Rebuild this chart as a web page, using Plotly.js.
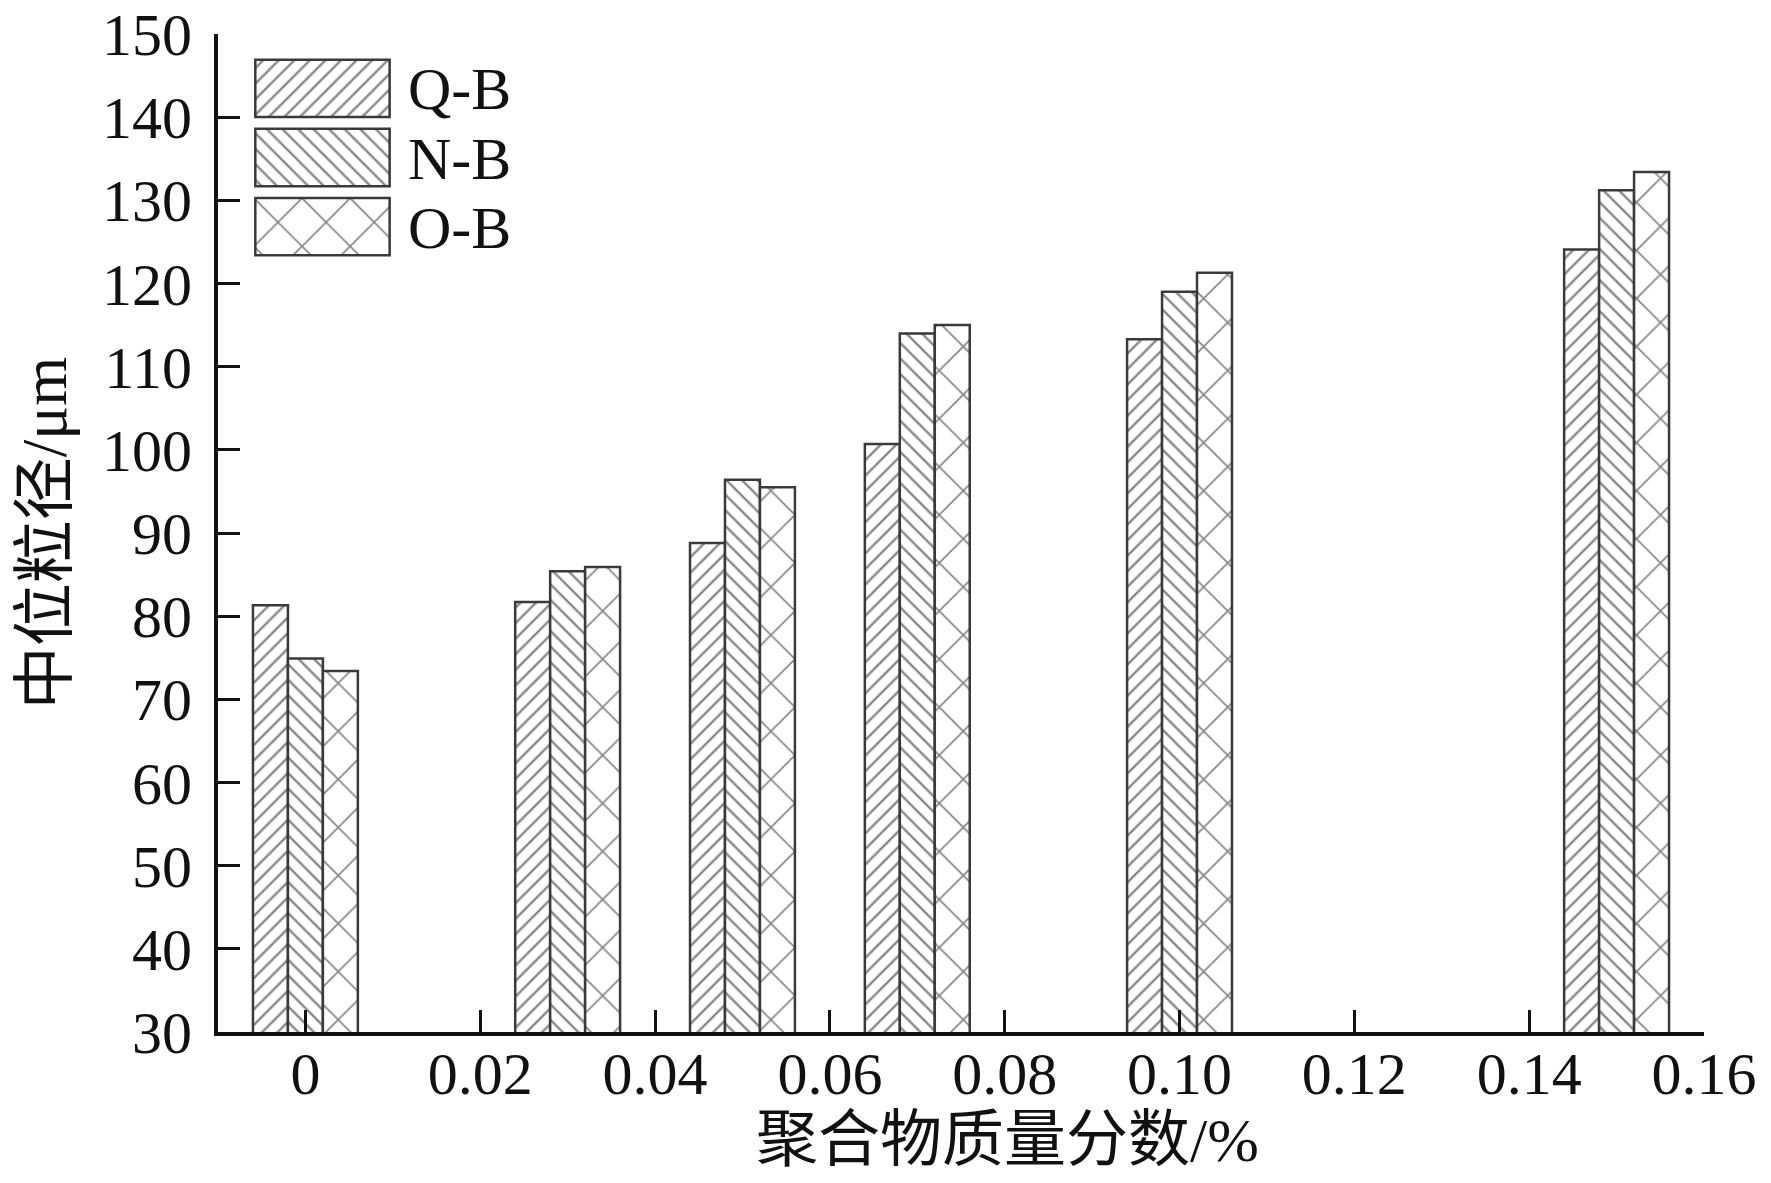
<!DOCTYPE html>
<html>
<head>
<meta charset="utf-8">
<script src="https://cdn.plot.ly/plotly-3.0.1.min.js"></script>
<style>
  html, body { margin: 0; padding: 0; background: #fff; }
  #chart { width: 1771px; height: 1183px; }
</style>
</head>
<body>
<div id="chart"></div>
<script>
// polymer mass fraction (%) and median particle size (um)
const massFraction = [0, 0.03, 0.05, 0.07, 0.10, 0.15];
const qbValues = [81.3, 81.7, 88.8, 100.7, 113.3, 124.1];
const nbValues = [74.9, 85.4, 96.4, 114.0, 119.0, 131.2];
const obValues = [73.4, 85.9, 95.5, 115.0, 121.3, 133.4];
const seriesNames = ["Q-B", "N-B", "O-B"];

const xTickVals = [0, 0.02, 0.04, 0.06, 0.08, 0.10, 0.12, 0.14, 0.16];
const xTickText = ["0", "0.02", "0.04", "0.06", "0.08", "0.10", "0.12", "0.14", "0.16"];
const yTickVals = [30, 40, 50, 60, 70, 80, 90, 100, 110, 120, 130, 140, 150];

const FONT = "'Liberation Serif', 'Times New Roman', 'Noto Sans CJK SC', serif";
const barW = 0.004;
const patterns = [
    { shape: "/", size: 11, solidity: 0.22 },
    { shape: "\\", size: 11, solidity: 0.22 },
    { shape: "x", size: 34, solidity: 0.1 }
];

function marker(i) {
    return {
        color: "#ffffff",
        line: { color: "#3a3a3a", width: 2.5 },
        pattern: Object.assign({ fillmode: "overlay", bgcolor: "#ffffff", fgcolor: "#111111" }, patterns[i])
    };
}

const allValues = [qbValues, nbValues, obValues];
let data = allValues.map((vals, i) => ({
    type: "bar",
    name: seriesNames[i],
    x: massFraction,
    y: vals,
    width: barW,
    offset: -1.5 * barW + i * barW,
    marker: marker(i),
    showlegend: false,
    hoverinfo: "x+y+name"
}));

// legend boxes drawn as bars on a small helper axis so they keep the big hatched look
seriesNames.forEach((name, i) => {
    data.push({
        type: "bar",
        orientation: "h",
        x: [1],
        y: [name],
        width: 0.83,
        xaxis: "x2",
        yaxis: "y2",
        marker: marker(i),
        showlegend: false,
        hoverinfo: "skip"
    });
});

let layout = {
    width: 1771,
    height: 1183,
    margin: { l: 218, r: 67, t: 34, b: 151 },
    paper_bgcolor: "#ffffff",
    plot_bgcolor: "#ffffff",
    barmode: "overlay",
    font: { family: FONT, color: "#111111", size: 60 },
    xaxis: {
        range: [-0.01, 0.16],
        tickvals: xTickVals,
        ticktext: xTickText,
        ticks: "inside",
        ticklen: 22,
        tickwidth: 3,
        tickcolor: "#111",
        showline: true,
        linewidth: 4,
        linecolor: "#111",
        showgrid: false,
        zeroline: false,
        ticklabelstandoff: -14,
        tickfont: { family: FONT, size: 60 }
    },
    yaxis: {
        range: [30, 150],
        tickvals: yTickVals,
        ticks: "inside",
        ticklen: 22,
        tickwidth: 3,
        tickcolor: "#111",
        showline: true,
        linewidth: 4,
        linecolor: "#111",
        showgrid: false,
        zeroline: false,
        ticklabelstandoff: 10,
        tickfont: { family: FONT, size: 60 },
        title: { text: "中位粒径/μm", font: { family: FONT, size: 63 }, standoff: 16 }
    },
    xaxis2: {
        domain: [0.0242, 0.1164],
        range: [-0.01, 1.01],
        anchor: "y2",
        visible: false,
        fixedrange: true
    },
    yaxis2: {
        domain: [0.7725, 0.98],
        anchor: "x2",
        type: "category",
        categoryorder: "array",
        categoryarray: seriesNames.slice().reverse(),
        tickmode: "array",
        tickvals: seriesNames,
        ticktext: seriesNames,
        side: "right",
        showline: false,
        showgrid: false,
        zeroline: false,
        ticks: "",
        ticklabelstandoff: 16,
        tickfont: { family: FONT, size: 60 },
        fixedrange: true
    },
    // x title as an annotation: in the original it sits a little right of centre
    annotations: [{
        text: "聚合物质量分数/%",
        xref: "paper", yref: "paper",
        x: 0.531, y: -0.108,
        xanchor: "center", yanchor: "middle",
        showarrow: false,
        font: { family: FONT, size: 62, color: "#111111" }
    }]
};

Plotly.newPlot("chart", data, layout, { displayModeBar: false, staticPlot: true });
</script>
</body>
</html>
